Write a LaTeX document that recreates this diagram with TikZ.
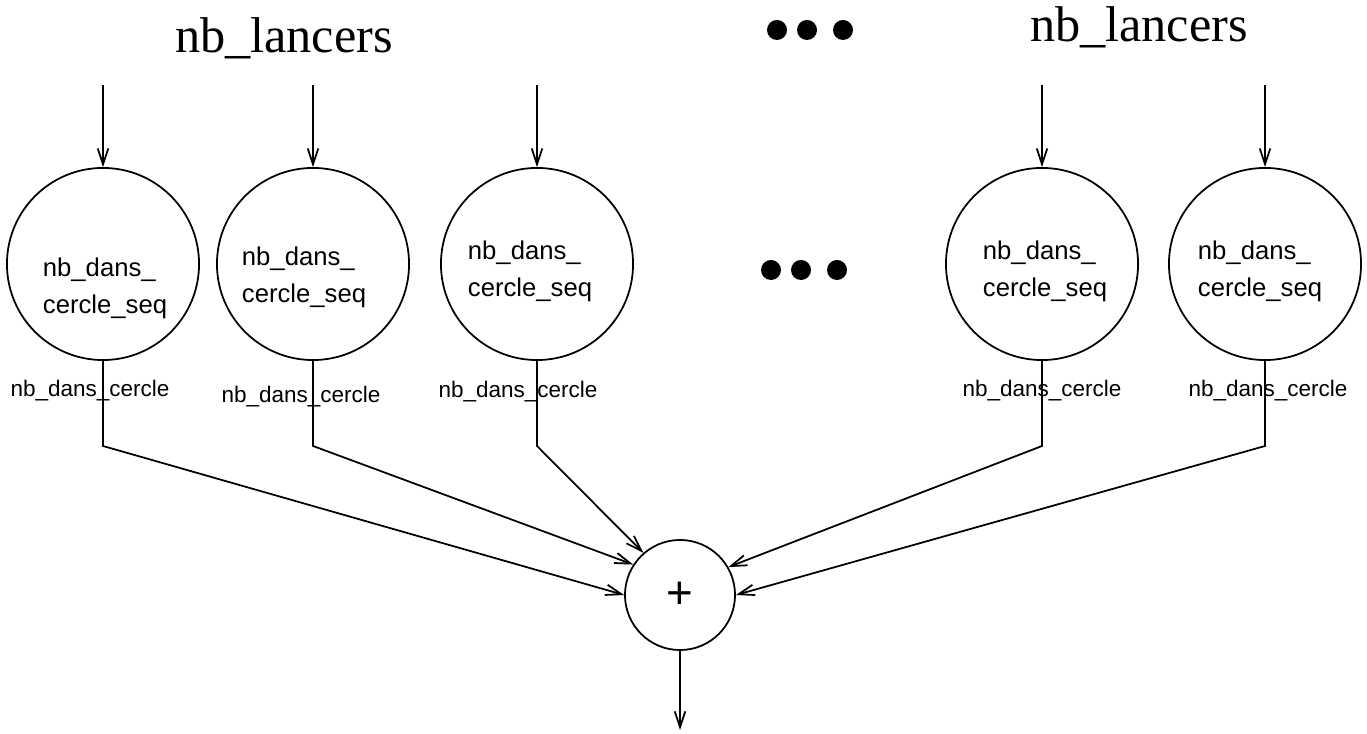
\documentclass[tikz,border=0pt]{standalone}
\usepackage{fontspec}
\setmainfont{Liberation Serif}
\newfontfamily\sansf{Liberation Sans}
\usetikzlibrary{arrows.meta}

\tikzset{
  seqnode/.style={circle, draw, minimum size=1.92cm, inner sep=0pt},
  seqtext/.style={align=left, inner sep=0pt, font=\sansf\fontsize{7.3}{10.5}\selectfont},
  outlabel/.style={inner sep=0pt, font=\sansf\fontsize{6.4}{7}\selectfont},
  sumnode/.style={circle, draw, minimum size=1.1cm, inner sep=0pt, font=\sansf\fontsize{13}{13}\selectfont},
  bigdot/.style={circle, fill, minimum size=0.2cm, inner sep=0pt},
  toplabel/.style={inner sep=0pt, anchor=base, font=\fontsize{14.3}{16}\selectfont},
}

\begin{document}
\begin{tikzpicture}[x=0.01cm, y=-0.01cm, line width=0.5pt, >={Straight Barb[length=4.5pt,width=3pt]}]
  \useasboundingbox (0,0) rectangle (1367,734);

  % nombre de lancers
  \node[toplabel] (l1) at (284,53) {nb\_lancers};
  \node[toplabel] (l2) at (1139,42) {nb\_lancers};

  % points de suspension
  \node[bigdot] (d1) at (777,30) {};
  \node[bigdot] (d2) at (807,30) {};
  \node[bigdot] (d3) at (843,30) {};
  \node[bigdot] (d4) at (771,270) {};
  \node[bigdot] (d5) at (801,270) {};
  \node[bigdot] (d6) at (837,270) {};

  % somme
  \node[sumnode] (plus) at (680,595) {+};
  \coordinate (out) at (680,730);
  \draw[->] (plus) -- (out);

  % processus
  \foreach \i/\x/\tx/\ty/\lx/\ly/\a in {1/103/105/288/90/391/180,
                                        2/313/304/277/301/397/147,
                                        3/537/530/271/518/392/131,
                                        4/1042/1045/271/1042/391/30,
                                        5/1265/1260/271/1268/391/0}
  {
    \coordinate (in\i) at (\x,85);
    \node[seqnode] (c\i) at (\x,264) {};
    \node[seqtext] (t\i) at (\tx,\ty) {nb\_dans\_\\cercle\_seq};
    \node[outlabel] (n\i) at (\lx,\ly) {nb\_dans\_cercle};
    \coordinate (b\i) at (\x,446);
    \draw[->] (in\i) -- (c\i);
    \draw[->] (c\i) -- (b\i) -- (plus.\a);
  }
\end{tikzpicture}
\end{document}
